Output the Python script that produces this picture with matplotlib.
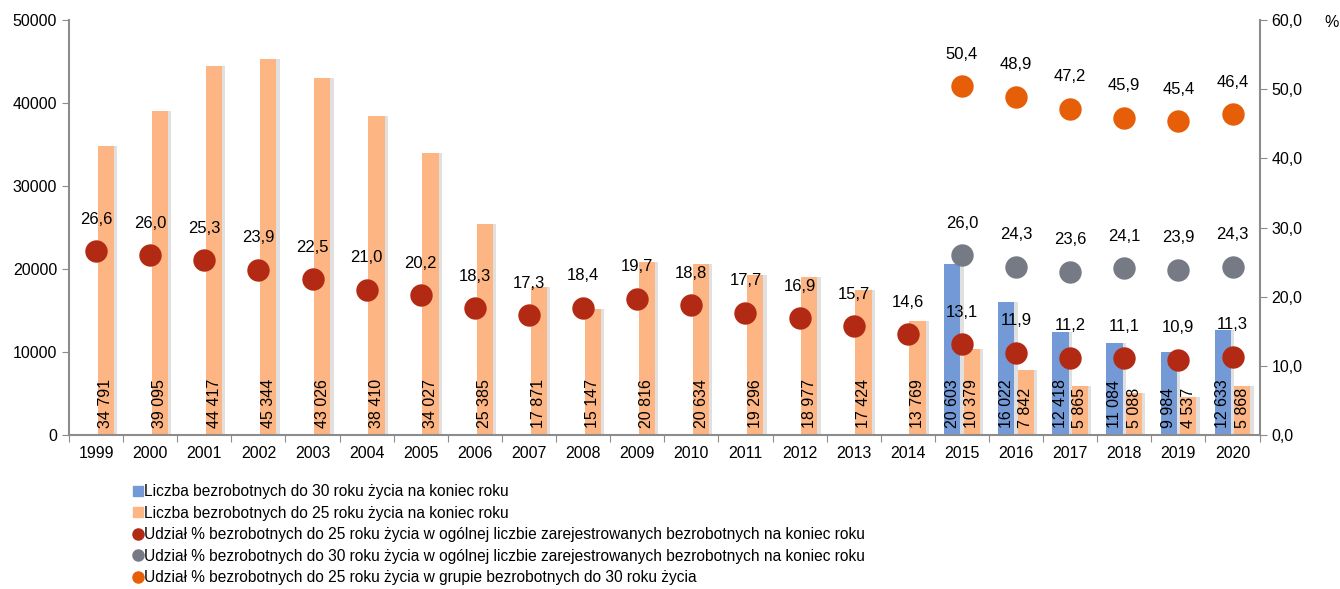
import numpy as np
import matplotlib.pyplot as plt
from matplotlib import font_manager
from matplotlib.lines import Line2D

# fonts
names = {f.name for f in font_manager.fontManager.ttflist}
fam = 'Liberation Sans Narrow' if 'Liberation Sans Narrow' in names else 'Liberation Sans'
plt.rcParams['font.family'] = [fam, 'DejaVu Sans']

# data
years = [str(y) for y in range(1999, 2021)]
u25 = [34791, 39095, 44417, 45344, 43026, 38410, 34027, 25385, 17871, 15147, 20816,
       20634, 19296, 18977, 17424, 13769, 10379, 7842, 5865, 5088, 4537, 5868]
u30 = [np.nan] * 16 + [20603, 16022, 12418, 11084, 9984, 12633]
pct25_all = [26.6, 26.0, 25.3, 23.9, 22.5, 21.0, 20.2, 18.3, 17.3, 18.4, 19.7,
             18.8, 17.7, 16.9, 15.7, 14.6, 13.1, 11.9, 11.2, 11.1, 10.9, 11.3]
pct30_all = [np.nan] * 16 + [26.0, 24.3, 23.6, 24.1, 23.9, 24.3]
pct25_in30 = [np.nan] * 16 + [50.4, 48.9, 47.2, 45.9, 45.4, 46.4]

c_blue = '#7399D6'
c_orange = '#FDB583'
c_red = '#B22A14'
c_gray = '#767A84'
c_dot_orange = '#E65E08'
c_axis = '#8C8C8C'

fs = 11.5

def fmt_int(v):
    return f'{int(v):,}'.replace(',', ' ')

def fmt_pct(v):
    return f'{v:.1f}'.replace('.', ',')

x = np.arange(len(years))
w = 0.3
off = 0.18

fig = plt.figure(figsize=(13.4, 5.89), dpi=100)
ax = fig.add_axes([0.0515, 0.2615, 0.8885, 0.7045])

# shadows
ax.bar(x - off + 0.06, u30, w, color='#000000', alpha=0.12, zorder=1)
ax.bar(x + off + 0.06, u25, w, color='#000000', alpha=0.12, zorder=1)
ax.bar(x - off, u30, w, color=c_blue, zorder=2)
ax.bar(x + off, u25, w, color=c_orange, zorder=2)

for xi, v in zip(x, u30):
    if not np.isnan(v):
        ax.text(xi - off, 800, fmt_int(v), rotation=90, ha='center', va='bottom',
                fontsize=fs, zorder=5)
for xi, v in zip(x, u25):
    ax.text(xi + off, 800, fmt_int(v), rotation=90, ha='center', va='bottom',
            fontsize=fs, zorder=5)

ax.set_xlim(-0.5, len(years) - 0.5)
ax.set_ylim(0, 50000)
ax.set_yticks(range(0, 50001, 10000))
ax.set_xticks(np.arange(-0.5, len(years)), minor=False)
ax.set_xticklabels([])
ax.set_xticks(x, minor=True)
ax.set_xticklabels(years, minor=True)
ax.tick_params(axis='x', which='major', length=5, color=c_axis, direction='out')
ax.tick_params(axis='x', which='minor', length=0, pad=8, labelsize=fs)
ax.tick_params(axis='y', length=5, color=c_axis, labelsize=fs)
for s in ['top', 'right']:
    ax.spines[s].set_visible(False)
for s in ['left', 'bottom']:
    ax.spines[s].set_color(c_axis)
    ax.spines[s].set_linewidth(1.5)

ax2 = ax.twinx()
ax2.set_ylim(0, 60)
ax2.set_yticks(range(0, 61, 10))
ax2.set_yticklabels([fmt_pct(v) for v in range(0, 61, 10)])
ax2.tick_params(axis='y', length=5, color=c_axis, labelsize=fs)
for s in ['top', 'left', 'bottom']:
    ax2.spines[s].set_visible(False)
ax2.spines['right'].set_color(c_axis)
ax2.spines['right'].set_linewidth(1.5)

for series, col in [(pct25_all, c_red), (pct30_all, c_gray), (pct25_in30, c_dot_orange)]:
    ax2.scatter(x, series, s=260, color=col, zorder=3, linewidths=0)
    for xi, v in zip(x, series):
        if not np.isnan(v):
            ax2.annotate(fmt_pct(v), (xi, v), xytext=(0, 23), textcoords='offset points',
                         ha='center', va='center', fontsize=fs + 0.5, zorder=6)

fig.text(0.9935, 0.962, '%', ha='center', va='center', fontsize=fs)

handles = [
    Line2D([], [], ls='', marker='s', ms=6.5, mfc=c_blue, mec=c_blue),
    Line2D([], [], ls='', marker='s', ms=6.5, mfc=c_orange, mec=c_orange),
    Line2D([], [], ls='', marker='o', ms=8, mfc=c_red, mec=c_red),
    Line2D([], [], ls='', marker='o', ms=8, mfc=c_gray, mec=c_gray),
    Line2D([], [], ls='', marker='o', ms=8, mfc=c_dot_orange, mec=c_dot_orange),
]
labels = [
    'Liczba bezrobotnych do 30 roku życia na koniec roku',
    'Liczba bezrobotnych do 25 roku życia na koniec roku',
    'Udział % bezrobotnych do 25 roku życia w ogólnej liczbie zarejestrowanych bezrobotnych na koniec roku',
    'Udział % bezrobotnych do 30 roku życia w ogólnej liczbie zarejestrowanych bezrobotnych na koniec roku',
    'Udział % bezrobotnych do 25 roku życia w grupie bezrobotnych do 30 roku życia',
]
fig.legend(handles, labels, loc='upper left', bbox_to_anchor=(0.1, 0.178),
           frameon=False, fontsize=11.2, handlelength=0.5, handletextpad=0.15,
           labelspacing=0.42, borderpad=0, borderaxespad=0)

fig.savefig('out.png', dpi=100)
